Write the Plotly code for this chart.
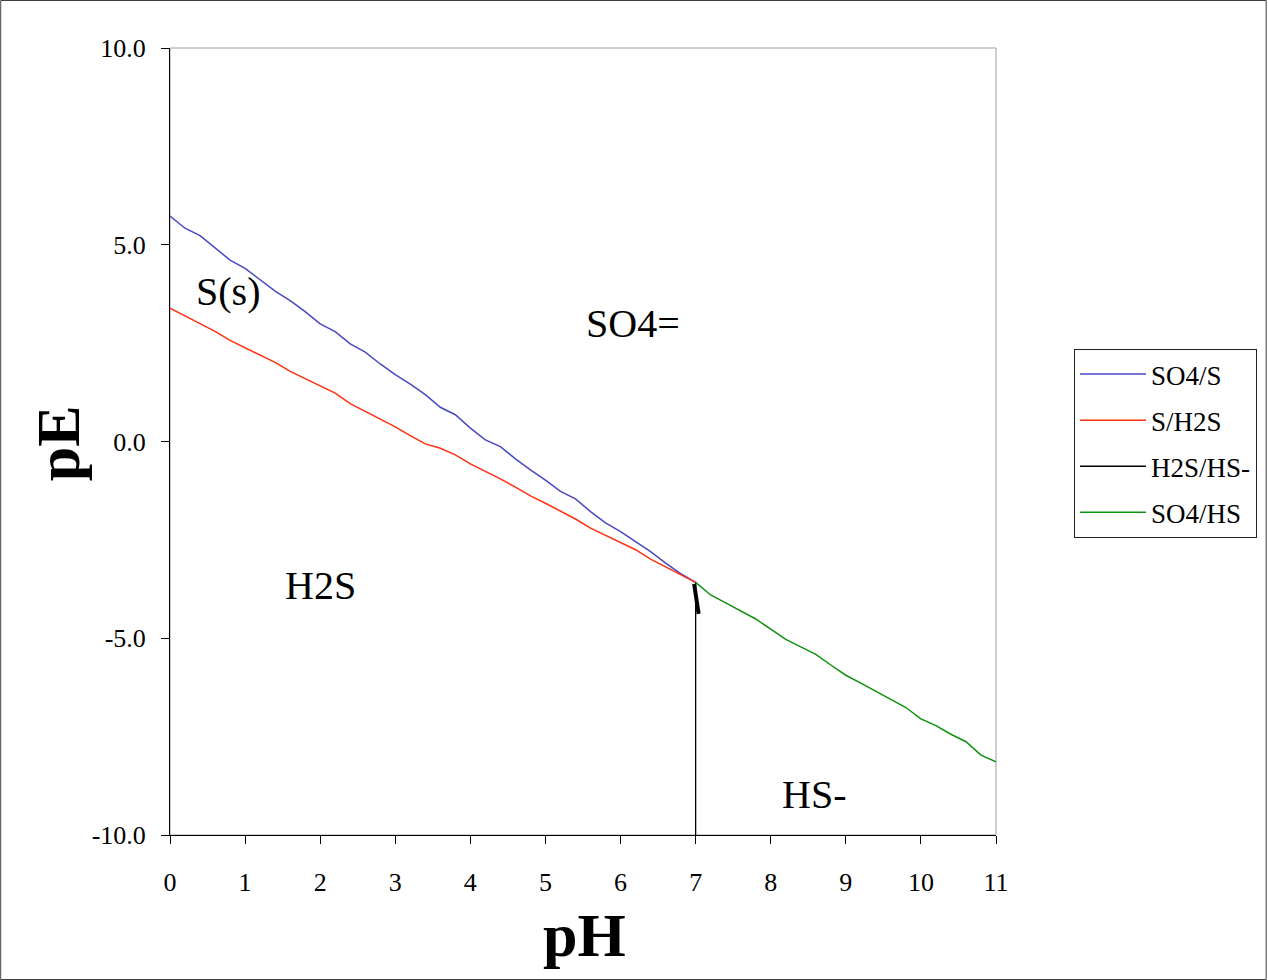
import plotly.graph_objects as go

# pE-pH boundaries for the sulfur system (pH steps of 0.2)
ph_acid = [0.0, 0.2, 0.4, 0.6, 0.8, 1.0, 1.2, 1.4, 1.6, 1.8, 2.0, 2.2, 2.4, 2.6, 2.8,
           3.0, 3.2, 3.4, 3.6, 3.8, 4.0, 4.2, 4.4, 4.6, 4.8, 5.0, 5.2, 5.4, 5.6, 5.8,
           6.0, 6.2, 6.4, 6.6, 6.8, 7.0]
pe_so4_s = [5.73, 5.42, 5.23, 4.92, 4.61, 4.40, 4.10, 3.82, 3.58, 3.30, 2.99, 2.79, 2.48, 2.27, 1.97,
            1.70, 1.46, 1.19, 0.87, 0.68, 0.34, 0.04, -0.13, -0.44, -0.72, -0.98, -1.27, -1.46, -1.78, -2.07,
            -2.29, -2.54, -2.80, -3.09, -3.36, -3.58]
pe_s_h2s = [3.39, 3.19, 3.00, 2.80, 2.57, 2.38, 2.19, 2.01, 1.78, 1.60, 1.41, 1.23, 0.96, 0.77, 0.57,
            0.37, 0.15, -0.06, -0.17, -0.34, -0.57, -0.75, -0.95, -1.16, -1.38, -1.57, -1.77, -1.97, -2.20, -2.38,
            -2.57, -2.75, -2.99, -3.19, -3.38, -3.58]

ph_h2s_hs = [7.0, 7.0]
pe_h2s_hs = [-3.58, -10.0]
ph_h2s_hs_stub = [6.98, 7.04]
pe_h2s_hs_stub = [-3.62, -4.38]

ph_basic = [7.0, 7.2, 7.4, 7.6, 7.8, 8.0, 8.2, 8.4, 8.6, 8.8, 9.0, 9.2, 9.4, 9.6, 9.8,
            10.0, 10.2, 10.4, 10.6, 10.8, 11.0]
pe_so4_hs = [-3.58, -3.90, -4.10, -4.30, -4.51, -4.77, -5.03, -5.22, -5.41, -5.68, -5.94, -6.14, -6.34, -6.55, -6.76,
             -7.05, -7.22, -7.44, -7.63, -7.97, -8.14]

x_ticks = list(range(0, 12))
y_ticks = [-10, -5, 0, 5, 10]
y_tick_text = ["-10.0", "-5.0", "0.0", "5.0", "10.0"]

region_labels = ["S(s)", "SO4=", "H2S", "HS-"]
region_ph = [0.77, 6.17, 2.0, 8.58]
region_pe = [3.8, 3.0, -3.67, -8.98]

FONT = "Liberation Serif, Times New Roman, serif"
BLUE = "#4848c4"
RED = "#ff3010"
BLACK = "#000000"
GREEN = "#109010"

W, H = 1268, 980
L, R, T, B = 170, 271, 48, 145
PW, PH = W - L - R, H - T - B

fig = go.Figure()
fig.add_trace(go.Scatter(x=ph_acid, y=pe_so4_s, mode="lines", name="SO4/S",
                         line=dict(color=BLUE, width=1.5), legendgroup="a"))
fig.add_trace(go.Scatter(x=ph_acid, y=pe_s_h2s, mode="lines", name="S/H2S",
                         line=dict(color=RED, width=1.5), legendgroup="b"))
fig.add_trace(go.Scatter(x=ph_h2s_hs, y=pe_h2s_hs, mode="lines", name="H2S/HS-",
                         line=dict(color=BLACK, width=1.3), legendgroup="c"))
fig.add_trace(go.Scatter(x=ph_h2s_hs_stub, y=pe_h2s_hs_stub, mode="lines", showlegend=False,
                         line=dict(color=BLACK, width=4), legendgroup="c"))
fig.add_trace(go.Scatter(x=ph_basic, y=pe_so4_hs, mode="lines", name="SO4/HS",
                         line=dict(color=GREEN, width=1.5), legendgroup="d"))

for txt, px_, pe_ in zip(region_labels, region_ph, region_pe):
    fig.add_annotation(x=px_, y=pe_, text=txt, showarrow=False,
                       font=dict(family=FONT, size=40, color="black"))

# axis titles
fig.add_annotation(xref="paper", yref="paper", x=(585 - L) / PW, y=-(935 - T - PH) / PH,
                   xanchor="center", yanchor="middle",
                   text="<b>pH</b>", showarrow=False,
                   font=dict(family=FONT, size=62, color="black"))
fig.add_annotation(xref="paper", yref="paper", x=(58 - L) / PW, y=(H - B - 443) / PH,
                   xanchor="center", yanchor="middle",
                   text="<b>pE</b>", showarrow=False, textangle=-90,
                   font=dict(family=FONT, size=62, color="black"))

# plot-area frame (grey) and outer chart border
fig.add_shape(type="rect", xref="paper", yref="paper", x0=0, x1=1, y0=0, y1=1,
              line=dict(color="#a0a0a0", width=1), layer="below")
fig.add_shape(type="rect", xref="paper", yref="paper",
              x0=(0.5 - L) / PW, x1=(W - 0.5 - L) / PW,
              y0=-(B - 0.5) / PH, y1=1 + (T - 0.5) / PH,
              line=dict(color="#404040", width=1))

fig.update_xaxes(range=[0, 11], tickvals=x_ticks, ticks="outside", ticklen=8,
                 tickcolor="black", showline=True, linecolor="black", linewidth=1,
                 showgrid=False, zeroline=False, ticklabelstandoff=16,
                 tickfont=dict(family=FONT, size=26, color="black"))
fig.update_yaxes(range=[-10, 10], tickvals=y_ticks, ticktext=y_tick_text, ticks="outside",
                 ticklen=8, tickcolor="black", showline=True, linecolor="black", linewidth=1,
                 showgrid=False, zeroline=False, ticklabelstandoff=10,
                 tickfont=dict(family=FONT, size=26, color="black"))

fig.update_layout(
    width=W, height=H,
    margin=dict(l=L, r=R, t=T, b=B, pad=0),
    paper_bgcolor="white", plot_bgcolor="white",
    showlegend=True,
    legend=dict(x=(1074 - L) / PW, y=(H - B - 349) / PH, xanchor="left", yanchor="top",
                bordercolor="#202020", borderwidth=1, bgcolor="white",
                font=dict(family=FONT, size=27, color="black"),
                traceorder="grouped", tracegroupgap=8, itemwidth=66),
)

fig.write_html("out.html")
